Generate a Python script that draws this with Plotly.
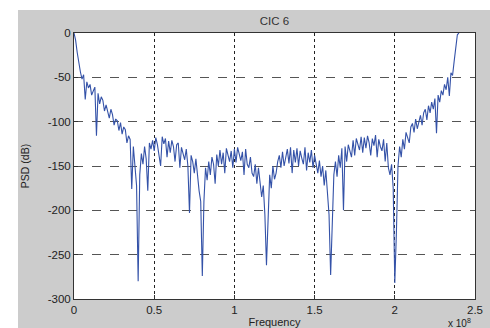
import plotly.graph_objects as go

# Frequency in units of 1e8 Hz, step 0.01
freq = [round(i * 0.01, 2) for i in range(241)]

psd = [
    # 0.00-0.09
    0, -8, -22, -36, -44, -52, -47, -75, -55, -62,
    # 0.10-0.19
    -58, -70, -66, -61, -116, -68, -80, -72, -76, -88,
    # 0.20-0.29
    -81, -90, -96, -86, -92, -104, -97, -99, -110, -101,
    # 0.30-0.39
    -114, -106, -109, -124, -116, -120, -176, -128, -150, -172,
    # 0.40-0.49
    -280, -160, -136, -148, -128, -142, -178, -124, -131, -121,
    # 0.50-0.59
    -133, -118, -126, -138, -150, -117, -125, -119, -140, -122,
    # 0.60-0.69
    -135, -121, -128, -145, -126, -124, -152, -129, -136, -143,
    # 0.70-0.79
    -131, -150, -203, -138, -145, -158, -142, -165, -178, -190,
    # 0.80-0.89
    -274, -190, -152, -166, -145, -160, -140, -148, -170, -137,
    # 0.90-0.99
    -150, -132, -148, -135, -158, -130, -138, -145, -133, -152,
    # 1.00-1.09
    -131, -146, -129, -138, -144, -134, -160, -131, -148, -152,
    # 1.10-1.19
    -140, -158, -162, -148, -170, -152, -166, -185, -172, -205,
    # 1.20-1.29
    -262, -200, -160, -175, -150, -165, -158, -145, -138, -152,
    # 1.30-1.39
    -134, -150, -140, -131, -147, -129, -158, -132, -146, -130,
    # 1.40-1.49
    -150, -133, -141, -148, -129, -155, -135, -146, -132, -152,
    # 1.50-1.59
    -138, -149, -158, -144, -162, -150, -172, -155, -185, -205,
    # 1.60-1.69
    -273, -205, -160, -145, -162, -138, -152, -130, -200, -128,
    # 1.70-1.79
    -145, -126, -133, -140, -121, -138, -119, -125, -132, -117,
    # 1.80-1.89
    -135, -118, -130, -116, -124, -138, -119, -127, -115, -140,
    # 1.90-1.99
    -120, -128, -133, -120, -145, -124, -152, -160, -148, -175,
    # 2.00-2.09
    -282, -225, -150, -128, -140, -120, -131, -112, -118, -124,
    # 2.10-2.19
    -106, -102, -112, -97, -108, -101, -93, -104, -90, -86,
    # 2.20-2.29
    -98, -82, -90, -78, -86, -74, -113, -70, -78, -65,
    # 2.30-2.39
    -70, -58, -64, -50, -71, -45, -48, -32, -14, -2,
    # 2.40
    0,
]

x_ticks = [0, 0.5, 1, 1.5, 2, 2.5]
x_tick_labels = ["0", "0.5", "1", "1.5", "2", "2.5"]
y_ticks = [0, -50, -100, -150, -200, -250, -300]
y_tick_labels = ["0", "-50", "-100", "-150", "-200", "-250", "-300"]

fig = go.Figure()
fig.add_trace(go.Scatter(
    x=freq, y=psd, mode="lines",
    line=dict(color="#3452a8", width=1.1),
    showlegend=False, hoverinfo="skip",
))

W, H = 490, 328
L, R, T, B = 74, 15, 33, 29
pw, ph = W - L - R, H - T - B

font = dict(family="Liberation Sans, Arial, sans-serif", size=11.5, color="#222222")

fig.update_layout(
    width=W, height=H,
    margin=dict(l=L, r=R, t=T, b=B, pad=0, autoexpand=False),
    paper_bgcolor="#cccccc",
    plot_bgcolor="#ffffff",
    font=font,
    title=dict(text="CIC 6", x=(L + pw / 2) / W, xanchor="center",
               y=1 - 21 / H, yanchor="middle",
               font=dict(family="Liberation Sans, Arial, sans-serif", size=11.5, color="#333333")),
    xaxis=dict(
        range=[0, 2.5], tickvals=x_ticks, ticktext=x_tick_labels,
        showgrid=True, gridcolor="#222222", griddash="dot", gridwidth=1,
        showline=True, linecolor="#333333", linewidth=1, mirror=True,
        ticks="inside", ticklen=4, tickcolor="#333333",
        zeroline=False, automargin=False,
        title=dict(text="Frequency", font=dict(size=11, color="#222222")),
    ),
    yaxis=dict(
        range=[-300, 0], tickvals=y_ticks, ticktext=y_tick_labels,
        showgrid=True, gridcolor="#555555", griddash="dash", gridwidth=1,
        showline=True, linecolor="#333333", linewidth=1, mirror=True,
        ticks="inside", ticklen=4, tickcolor="#333333",
        zeroline=False, automargin=False,
        title=dict(text="PSD (dB)", font=dict(size=10.5, color="#222222")),
    ),
)

# white strips at top and left (outside the grey figure panel)
fig.add_shape(type="rect", xref="paper", yref="paper",
              x0=-L / pw - 0.01, x1=1 + R / pw + 0.01,
              y0=1 + (T - 10) / ph, y1=1 + T / ph + 0.02,
              fillcolor="#ffffff", line=dict(width=0), layer="below")
fig.add_shape(type="rect", xref="paper", yref="paper",
              x0=-L / pw - 0.01, x1=(18 - L) / pw,
              y0=-B / ph - 0.02, y1=1 + T / ph + 0.02,
              fillcolor="#ffffff", line=dict(width=0), layer="below")

fig.add_annotation(
    text="x 10<sup>8</sup>", xref="paper", yref="paper",
    x=(446 - L) / pw, y=-(322.5 - (T + ph)) / ph,
    xanchor="left", yanchor="middle", showarrow=False,
    font=dict(size=10, color="#222222"),
)

fig.write_html(
    "out.html",
    config={"displayModeBar": False},
    post_script="document.body.style.margin='0';document.body.style.overflow='hidden';",
)
